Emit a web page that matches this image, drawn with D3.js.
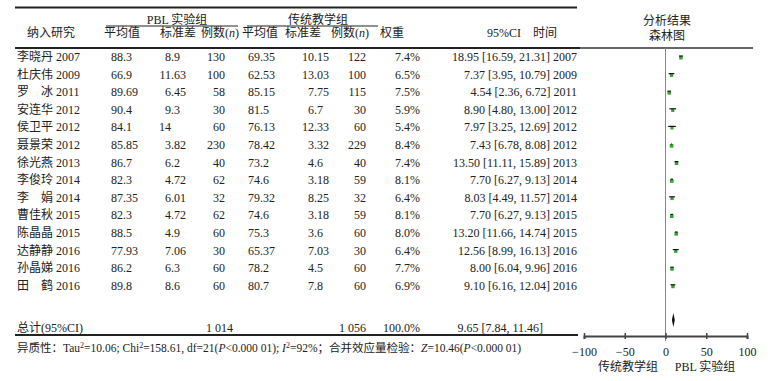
<!DOCTYPE html>
<html><head><meta charset="utf-8">
<script src="https://cdn.jsdelivr.net/npm/d3@7"></script>
<style>
html,body{margin:0;padding:0;background:#fff;}
svg{display:block;}
text{font-family:"Liberation Serif","Times New Roman","Noto Sans CJK SC",serif;font-size:12px;fill:#222;}
</style></head>
<body>
<svg id="c" width="772" height="381"></svg>
<script>
const studies = ["李晓丹","杜庆伟","罗\u3000冰","安连华","侯卫平","聂景荣","徐光燕","李俊玲","李\u3000娟","曹佳秋","陈晶晶","达静静","孙晶娣","田\u3000鹤"];
const years = ["2007","2009","2011","2012","2012","2012","2013","2014","2014","2015","2015","2016","2016","2016"];
const pblMean = ["88.3","66.9","89.69","90.4","84.1","85.85","86.7","82.3","87.35","82.3","88.5","77.93","86.2","89.8"];
const pblSD = ["8.9","11.63","6.45","9.3","14","3.82","6.2","4.72","6.01","4.72","4.9","7.06","6.3","8.6"];
const pblN = [130,100,58,30,60,230,40,62,32,62,60,30,60,60];
const ctrlMean = ["69.35","62.53","85.15","81.5","76.13","78.42","73.2","74.6","79.32","74.6","75.3","65.37","78.2","80.7"];
const ctrlSD = ["10.15","13.03","7.75","6.7","12.33","3.32","4.6","3.18","8.25","3.18","3.6","7.03","4.5","7.8"];
const ctrlN = [122,100,115,30,60,229,40,59,32,59,60,30,60,60];
const weights = [7.4,6.5,7.5,5.9,5.4,8.4,7.4,8.1,6.4,8.1,8.0,6.4,7.7,6.9];
const md = [18.95,7.37,4.54,8.90,7.97,7.43,13.50,7.70,8.03,7.70,13.20,12.56,8.00,9.10];
const ciLow = [16.59,3.95,2.36,4.80,3.25,6.78,11.11,6.27,4.49,6.27,11.66,8.99,6.04,6.16];
const ciHigh = [21.31,10.79,6.72,13.00,12.69,8.08,15.89,9.13,11.57,9.13,14.74,16.13,9.96,12.04];
const totalPblN = "1 014", totalCtrlN = "1 056";
const totalMD = 9.65, totalLow = 7.84, totalHigh = 11.46;
const axisTicks = [-100,-50,0,50,100];

const svg = d3.select("#c");
const y = d3.scaleLinear().domain([0, studies.length-1]).range([57, 285.8]);
const x = d3.scaleLinear().domain([-100,100]).range([584,747]);
const ink = "#222";

function txt(xp, yp, s, anchor){
  return svg.append("text").attr("x",xp).attr("y",yp).attr("text-anchor",anchor||"start").text(s);
}
function hline(x1,x2,yy,w,c){
  svg.append("line").attr("x1",x1).attr("x2",x2).attr("y1",yy).attr("y2",yy)
    .attr("stroke",c||ink).attr("stroke-width",w||1);
}
function decimal(xp, yp, s){
  const parts = s.split(".");
  txt(xp, yp, parts[0], "end");
  if(parts.length>1) txt(xp, yp, "."+parts[1], "start");
}

// rules
hline(15, 577, 7.5, 2);
hline(15, 580, 48, 2);
hline(580, 753, 48, 1.5, "#333");
hline(15, 578, 335, 2);
hline(106, 238, 26, 1.2);
hline(247, 378, 26, 1.2);

// headers
txt(177, 24, "PBL 实验组", "middle");
txt(318, 24, "传统教学组", "middle");
txt(51, 37, "纳入研究", "middle");
txt(122, 37, "平均值", "middle");
txt(178, 37, "标准差", "middle");
const n1 = txt(220, 37, "例数(", "middle");
n1.text(null); n1.append("tspan").text("例数("); n1.append("tspan").attr("font-style","italic").text("n"); n1.append("tspan").text(")");
txt(260, 37, "平均值", "middle");
txt(303, 37, "标准差", "middle");
const n2 = txt(350, 37, "", "middle");
n2.append("tspan").text("例数("); n2.append("tspan").attr("font-style","italic").text("n"); n2.append("tspan").text(")");
txt(392, 37, "权重", "middle");
txt(504, 37, "95%CI", "middle");
txt(545, 37, "时间", "middle");
txt(667, 25, "分析结果", "middle");
txt(667, 40, "森林图", "middle");

// rows
studies.forEach((s,i)=>{
  const yb = y(i) + 4;
  txt(17, yb, s + " " + years[i]);
  decimal(123, yb, pblMean[i]);
  decimal(171, yb, pblSD[i]);
  txt(225, yb, String(pblN[i]), "end");
  decimal(260, yb, ctrlMean[i]);
  decimal(314, yb, ctrlSD[i]);
  txt(366, yb, String(ctrlN[i]), "end");
  txt(420, yb, weights[i].toFixed(1)+"%", "end");
  txt(577, yb, md[i].toFixed(2)+" ["+ciLow[i].toFixed(2)+", "+ciHigh[i].toFixed(2)+"] "+years[i], "end");
});

// total row
const ty = 332;
txt(17, ty, "总计(95%CI)");
txt(233, ty, totalPblN, "end");
txt(366, ty, totalCtrlN, "end");
txt(420, ty, "100.0%", "end");
txt(543, ty, totalMD.toFixed(2)+" ["+totalLow.toFixed(2)+", "+totalHigh.toFixed(2)+"]", "end");

// footer
const f = svg.append("text").attr("x",17).attr("y",352).style("font-size","11.5px");
const parts = [["异质性：Tau"],["2","sup"],["=10.06; Chi"],["2","sup"],["=158.61, df=21("],["P","i"],["<0.000 01); "],["I","i"],["2","sup"],["=92%；合并效应量检验："],["Z","i"],["=10.46("],["P","i"],["<0.000 01)"]];
parts.forEach(p=>{
  const t = f.append("tspan").text(p[0]);
  if(p[1]==="i") t.attr("font-style","italic");
  if(p[1]==="sup"){ t.attr("dy",-4).style("font-size","8px"); }
});
// fix baseline after superscripts
f.selectAll("tspan").each(function(d,i,nodes){
  const prev = nodes[i-1];
  if(prev && prev.getAttribute("dy")==="-4" && this.getAttribute("dy")!=="-4") d3.select(this).attr("dy",4);
});

// forest plot
svg.append("line").attr("x1",x(0)).attr("x2",x(0)).attr("y1",48).attr("y2",341)
  .attr("stroke","#888").attr("stroke-width",1);

const g = svg.append("g");
studies.forEach((s,i)=>{
  const yc = y(i);
  const side = 2 + weights[i]*0.2;
  g.append("rect").attr("x",x(md[i])-side/2).attr("y",yc-1).attr("width",side).attr("height",side)
    .attr("fill","#3aa13a");
  g.append("line").attr("x1",x(ciLow[i])).attr("x2",x(ciHigh[i])).attr("y1",yc-1).attr("y2",yc-1)
    .attr("stroke","#111").attr("stroke-width",1.2);
});
// diamond
const dy = 320, dh = 7;
svg.append("path").attr("d",
  `M${x(totalLow)},${dy} L${x(totalMD)},${dy-dh} L${x(totalHigh)},${dy} L${x(totalMD)},${dy+dh} Z`)
  .attr("fill","#111");

// axis
const ax = svg.append("g").attr("transform","translate(0,336)")
  .call(d3.axisBottom(x).tickValues(axisTicks).tickSize(3).tickFormat(d3.format("d")));
ax.select(".domain").attr("stroke","#444").attr("stroke-width",2);
ax.selectAll(".tick line").attr("y1",-3).attr("y2",3).attr("stroke","#444").attr("stroke-width",1.5);
ax.selectAll(".tick text").attr("y",20).attr("dy",0)
  .style("font-family",'"Liberation Serif","Times New Roman",serif').style("font-size","12px").attr("fill",ink);

txt(628, 371, "传统教学组", "middle");
txt(705, 371, "PBL 实验组", "middle");
</script>
</body></html>
